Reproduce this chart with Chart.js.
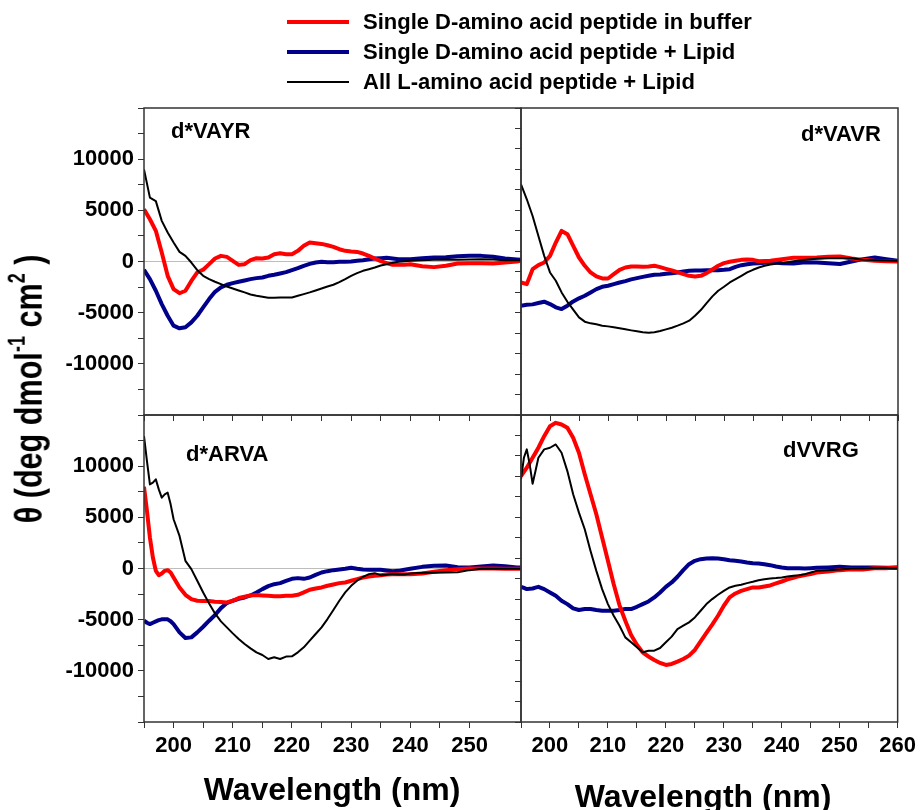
<!DOCTYPE html>
<html>
<head>
<meta charset="utf-8">
<script src="https://cdn.jsdelivr.net/npm/chart.js@4.4.0/dist/chart.umd.min.js"></script>
<style>
  body { margin: 0; background: #fff; }
  #wrap { position: relative; width: 921px; height: 810px; overflow: hidden; font-family: "Liberation Sans", Arial, sans-serif; }
  canvas { position: absolute; left: 0; top: 0; }
  .txt { position: absolute; font-weight: bold; color: #000; white-space: nowrap; }
  .legline { position: absolute; left: 287px; width: 62px; }
  .legtxt { left: 363px; font-size: 22px; line-height: 24px; }
  .panel { font-size: 22px; line-height: 24px; }
  .xtitle { font-size: 32px; line-height: 38px; width: 400px; text-align: center; }
  #ytitle { font-size: 34px; line-height: 44px; width: 600px; text-align: center;
            left: -272px; top: 367px; transform: rotate(-90deg) scale(0.9, 1.15); }
  #ytitle sup { font-size: 20px; vertical-align: 15px; line-height: 0; }
</style>
</head>
<body>
<div id="wrap">
  <canvas id="cA" width="921" height="810"></canvas>
  <canvas id="cB" width="921" height="810"></canvas>
  <canvas id="cC" width="921" height="810"></canvas>
  <canvas id="cD" width="921" height="810"></canvas>

  <div class="legline" style="top:20px;height:4px;background:#ff0000"></div>
  <div class="txt legtxt" style="top:10px">Single D-amino acid peptide in buffer</div>
  <div class="legline" style="top:50px;height:4px;background:#00008b"></div>
  <div class="txt legtxt" style="top:40px">Single D-amino acid peptide + Lipid</div>
  <div class="legline" style="top:81px;height:2px;background:#000"></div>
  <div class="txt legtxt" style="top:70px">All L-amino acid peptide + Lipid</div>

  <div class="txt panel" style="left:171px;top:119px">d*VAYR</div>
  <div class="txt panel" style="left:801px;top:122px">d*VAVR</div>
  <div class="txt panel" style="left:186px;top:442px">d*ARVA</div>
  <div class="txt panel" style="left:783px;top:438px">dVVRG</div>

  <div class="txt xtitle" style="left:132px;top:770px">Wavelength (nm)</div>
  <div class="txt xtitle" style="left:503px;top:777px">Wavelength (nm)</div>
  <div class="txt" id="ytitle">&theta; (deg dmol<sup>-1</sup> cm<sup>2</sup> )</div>
</div>

<script>
// wavelengths (nm) per panel
const wlA = [195,196,197,198,199,200,201,202,203,204,205,206,207,208,209,210,211,212,213,214,215,216,217,218,219,220,
  221,222,223,224,225,226,227,228,229,230,231,232,233,234,235,236,237,238,239,240,242,244,246,248,250,252,254,256,258,258.7];
const wlB = [195,196,197,198,199,200,201,202,203,204,205,206,207,208,209,210,211,212,213,214,215,216,217,218,219,220,
  221,222,223,224,225,226,227,228,229,230,231,232,233,234,235,236,237,238,239,240,242,244,246,248,250,252,254,256,258,260];
const wlC = [195,195.5,196,196.5,197,197.5,198,198.5,199,199.5,200,201,202,203,204,205,206,207,208,209,210,
  211,212,213,214,215,216,217,218,219,220,221,222,223,224,225,226,227,228,229,230,231,232,233,234,235,236,237,238,239,240,
  242,244,246,248,250,252,254,256,258,258.7];
const wlD = [195,195.5,196,196.5,197,197.5,198,199,200,201,202,203,204,205,206,207,208,209,210,
  211,212,213,214,215,216,217,218,219,220,221,222,223,224,225,226,227,228,229,230,231,232,233,234,235,236,237,238,239,240,
  241,242,243,244,245,246,248,250,252,254,256,258,260];

// d*VAYR
const vayrBuffer = [5100,4130,3000,880,-1400,-2700,-3100,-2860,-1900,-1070,-800,-260,290,550,450,65,-330,-260,130,325,
  290,390,715,810,715,715,1040,1530,1850,1790,1720,1590,1430,1200,1040,975,940,780,550,290,30,-160,-325,-325,-325,-260,
  -455,-550,-420,-195,-160,-160,-195,-100,0,65];
const vayrLipid = [-810,-1720,-2860,-4160,-5300,-6270,-6530,-6430,-5950,-5300,-4480,-3670,-2960,-2535,-2275,-2110,-1980,
  -1850,-1720,-1625,-1560,-1400,-1300,-1170,-1040,-845,-650,-420,-230,-100,-30,-65,-65,-30,-30,0,65,130,210,290,325,360,
  300,230,230,230,325,390,420,520,550,550,455,290,200,160];
const vayrAllL = [9000,6240,5900,3970,2830,1850,940,550,-100,-845,-1400,-1720,-1980,-2210,-2440,-2635,-2830,-3020,-3220,
  -3350,-3450,-3540,-3540,-3510,-3510,-3510,-3350,-3185,-3020,-2830,-2635,-2440,-2275,-2015,-1720,-1400,-1140,-910,-750,
  -585,-390,-260,-130,-30,30,65,130,160,195,160,195,230,195,130,130,130];

// d*VAVR
const vavrBuffer = [-2050,-2210,-750,-360,-100,550,1850,2990,2670,1530,390,-420,-1070,-1460,-1660,-1660,-1235,-810,-585,
  -490,-490,-520,-490,-420,-550,-715,-880,-1040,-1235,-1400,-1460,-1400,-1140,-780,-420,-160,-30,65,160,195,160,30,50,65,
  150,230,360,360,390,455,490,290,160,65,30,0];
const vavrLipid = [-4320,-4225,-4190,-4060,-3930,-4160,-4480,-4650,-4320,-3900,-3600,-3350,-3020,-2700,-2470,-2370,-2210,
  -2050,-1920,-1750,-1625,-1500,-1400,-1300,-1270,-1200,-1140,-1070,-975,-910,-880,-880,-845,-845,-845,-810,-750,-520,
  -360,-260,-195,-160,-120,-65,-100,-160,-195,-65,-100,-160,-250,0,230,390,230,65];
const vavrAllL = [7540,6080,4450,2500,550,-1070,-1880,-3020,-3930,-4710,-5460,-5880,-6045,-6140,-6270,-6340,-6435,-6530,
  -6630,-6730,-6825,-6920,-6955,-6920,-6790,-6630,-6470,-6270,-6045,-5785,-5300,-4745,-4060,-3410,-2860,-2470,-2050,
  -1720,-1400,-1070,-810,-585,-420,-290,-230,-160,30,160,260,325,325,325,160,130,100,65];

// d*ARVA
const arvaBuffer = [8000,5620,3020,1070,-230,-650,-490,-230,-160,-390,-880,-1850,-2570,-2990,-3150,-3185,-3185,-3250,
  -3280,-3315,-3150,-2890,-2760,-2630,-2600,-2630,-2665,-2700,-2700,-2665,-2665,-2570,-2340,-2080,-1950,-1850,-1690,-1560,
  -1430,-1365,-1200,-1040,-880,-780,-715,-650,-585,-570,-550,-550,-550,-490,-325,-160,-65,0,0,0,-30,-30,-30];
const arvaLipid = [-5100,-5300,-5430,-5300,-5170,-5050,-4970,-4950,-4970,-5150,-5430,-6240,-6790,-6730,-6240,-5690,-5100,
  -4550,-3870,-3380,-3150,-2960,-2830,-2630,-2340,-2015,-1720,-1530,-1430,-1200,-1010,-940,-1010,-880,-620,-390,-260,-160,
  -100,-30,65,-30,-100,-130,-130,-130,-195,-260,-230,-130,-30,160,260,290,130,100,195,290,230,100,100];
const arvaAllL = [12940,10500,8220,8385,8710,7735,6920,7250,7410,6270,4810,3185,750,-65,-1200,-2340,-3410,-4390,-5170,
  -5750,-6340,-6890,-7380,-7800,-8190,-8450,-8840,-8680,-8840,-8610,-8580,-8190,-7700,-7050,-6400,-5750,-4940,-4060,-3150,
  -2340,-1690,-1200,-810,-550,-455,-650,-620,-550,-585,-585,-490,-420,-420,-390,-360,-160,-30,-30,-30,-30,-30];

// dVVRG
const vvrgBuffer = [9035,9440,9850,10330,10820,11300,11800,12935,13910,14235,14070,13750,12770,11310,9200,7250,5300,3020,
  750,-1530,-3600,-5100,-6500,-7450,-8200,-8600,-8940,-9230,-9425,-9330,-9100,-8840,-8515,-7960,-7120,-6300,-5490,-4615,
  -3640,-2830,-2440,-2180,-2015,-1850,-1850,-1755,-1660,-1460,-1270,-1070,-910,-750,-650,-550,-390,-290,-160,-65,-100,30,
  30,130];
const vvrgLipid = [-1790,-1900,-2015,-1980,-1950,-1870,-1790,-2015,-2340,-2665,-3150,-3480,-3900,-4060,-3965,-3965,-4060,
  -4130,-4130,-4130,-4060,-3965,-3965,-3740,-3480,-3220,-2830,-2340,-1790,-1365,-810,-160,420,750,910,975,1010,975,910,
  810,750,680,585,520,490,420,325,195,100,30,30,15,0,30,65,100,160,100,100,100,65,65];
const vvrgAllL = [8710,10820,11640,10170,8290,9520,10820,11640,11800,12120,11310,9520,7250,5460,3835,1720,-230,-2015,
  -3480,-4615,-5590,-6730,-7215,-7700,-8190,-8030,-8030,-7770,-7215,-6660,-5915,-5590,-5265,-4780,-4130,-3480,-2990,-2570,
  -2180,-1850,-1690,-1590,-1430,-1300,-1140,-1040,-975,-940,-880,-780,-715,-650,-550,-390,-230,-160,-100,0,0,30,30,0];

const seriesNames = ['Single D-amino acid peptide in buffer', 'Single D-amino acid peptide + Lipid', 'All L-amino acid peptide + Lipid'];
const seriesColors = ['#ff0000', '#00008b', '#000000'];
const seriesWidths = [4, 4, 2];

const tickFont = { family: 'Liberation Sans', size: 22, weight: 'bold' };

const framePlugin = {
  id: 'frame',
  afterDraw(chart) {
    const { ctx, chartArea: a } = chart;
    ctx.save();
    ctx.strokeStyle = '#333';
    ctx.lineWidth = 1.5;
    ctx.strokeRect(a.left, a.top, a.right - a.left, a.bottom - a.top);
    ctx.restore();
  }
};

function makePanel(id, wl, lists, opts) {
  const datasets = lists.map((vals, i) => ({
    label: seriesNames[i],
    data: wl.map((x, j) => ({ x: x, y: vals[j] })),
    borderColor: seriesColors[i],
    borderWidth: seriesWidths[i],
    pointRadius: 0,
    tension: 0,
    borderJoinStyle: 'round',
    order: i === 2 ? 0 : i + 1
  }));

  new Chart(document.getElementById(id), {
    type: 'line',
    data: { datasets: datasets },
    plugins: [framePlugin],
    options: {
      responsive: false,
      animation: false,
      layout: { padding: opts.padding },
      plugins: { legend: { display: false }, tooltip: { enabled: false } },
      scales: {
        x: {
          type: 'linear',
          min: 195,
          max: opts.xMax,
          afterFit: s => { s.height = 40; },
          grid: { drawOnChartArea: false, tickLength: 6, tickColor: '#333' },
          border: { display: false },
          ticks: {
            stepSize: 5, autoSkip: false, maxRotation: 0, padding: 5,
            color: '#000', font: tickFont,
            callback: v => (opts.xLabels && v % 10 === 0) ? v : ''
          }
        },
        y: {
          min: -15000,
          max: 15000,
          afterFit: s => { s.width = 90; },
          grid: {
            tickLength: 6, tickColor: '#333', lineWidth: 1,
            color: c => (c.tick && c.tick.value === 0) ? '#bdbdbd' : 'rgba(0,0,0,0)'
          },
          border: { display: false },
          ticks: {
            stepSize: opts.yStep, autoSkip: false, padding: 4,
            color: '#000', font: tickFont,
            callback: v => (opts.yLabels && v % 5000 === 0 && Math.abs(v) <= 10000) ? v : ''
          }
        }
      }
    }
  });
}

makePanel('cA', wlA, [vayrBuffer, vayrLipid, vayrAllL],
  { padding: { left: 54, right: 400, top: 108, bottom: 355 }, xMax: 258.7, yStep: 2500, xLabels: false, yLabels: true });
makePanel('cB', wlB, [vavrBuffer, vavrLipid, vavrAllL],
  { padding: { left: 431, right: 23, top: 108, bottom: 355 }, xMax: 260, yStep: 2000, xLabels: false, yLabels: false });
makePanel('cC', wlC, [arvaBuffer, arvaLipid, arvaAllL],
  { padding: { left: 54, right: 400, top: 415, bottom: 48 }, xMax: 258.7, yStep: 2500, xLabels: true, yLabels: true });
makePanel('cD', wlD, [vvrgBuffer, vvrgLipid, vvrgAllL],
  { padding: { left: 431, right: 23, top: 415, bottom: 48 }, xMax: 260, yStep: 2000, xLabels: true, yLabels: false });
</script>
</body>
</html>
